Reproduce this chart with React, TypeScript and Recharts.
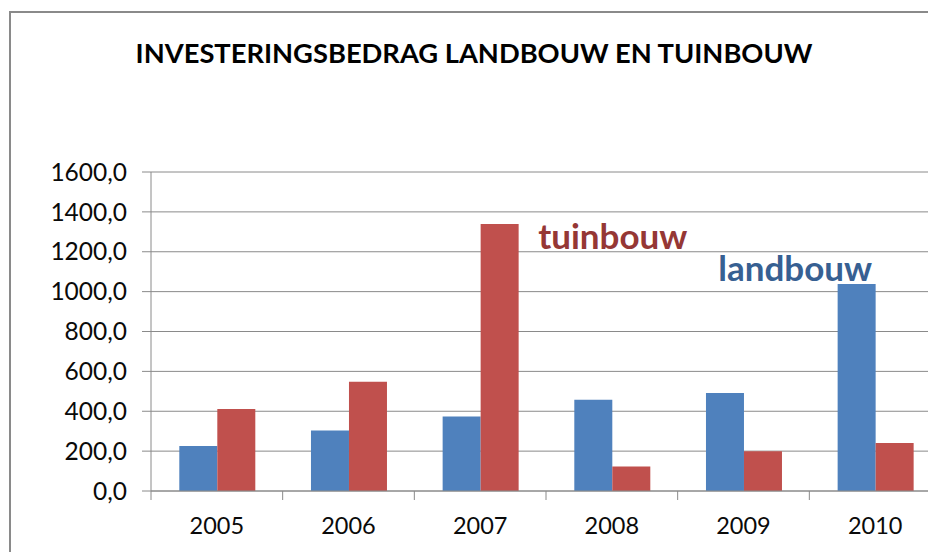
import React from 'react'
import { BarChart, Bar, XAxis, YAxis, CartesianGrid, ReferenceDot } from 'recharts'

const years = ['2005', '2006', '2007', '2008', '2009', '2010']
const landbouw = [226, 304, 374, 458, 491, 1038]
const tuinbouw = [411, 548, 1339, 123, 199, 241]
const yTicks = [0, 200, 400, 600, 800, 1000, 1200, 1400, 1600]

const data = years.map((year, i) => ({ year, landbouw: landbouw[i], tuinbouw: tuinbouw[i] }))

const FONT = 'Lato, "Open Sans", sans-serif'
const AXIS = '#8a8a8a'

const fmt = (v: number) => v.toFixed(1).replace('.', ',')

// category label in the middle, tick mark on the left boundary of each band
const YearTick = (props: any) => {
  const { x, y, payload, width, visibleTicksCount } = props
  const band = width / (visibleTicksCount || years.length)
  return (
    <g>
      <line x1={x - band / 2} y1={y} x2={x - band / 2} y2={y + 9} stroke={AXIS} />
      <text x={x} y={y + 43} textAnchor="middle" fontFamily={FONT} fontSize={23.5} fill="#0a0a0a">
        {payload.value}
      </text>
    </g>
  )
}

const tag = (text: string, color: string, dx: number, anchor: 'start' | 'end') => (p: any) => {
  const vb = p.viewBox || {}
  return (
    <text x={vb.x + dx} y={vb.y} textAnchor={anchor} fontFamily={FONT} fontWeight={700} fontSize={35} fill={color}>
      {text}
    </text>
  )
}

const App = () => {
  return (
    <div style={{ position: 'fixed', left: 0, top: 0, width: 928, height: 552, overflow: 'hidden', background: '#fff' }}>
      <div
        style={{
          position: 'absolute',
          left: 9,
          top: 11,
          width: 2000,
          height: 2000,
          borderLeft: `2px solid ${AXIS}`,
          borderTop: `2px solid ${AXIS}`,
        }}
      />
      <div
        style={{
          position: 'absolute',
          left: 0,
          top: 39,
          width: 948,
          textAlign: 'center',
          fontFamily: FONT,
          fontWeight: 700,
          fontSize: 27.3,
          lineHeight: '28px',
          color: '#000',
        }}
      >
        INVESTERINGSBEDRAG LANDBOUW EN TUINBOUW
      </div>
      <div style={{ position: 'absolute', left: 0, top: 0 }}>
        <BarChart
          width={960}
          height={552}
          data={data}
          margin={{ top: 172, right: 19, left: 0, bottom: 0 }}
          barCategoryGap="21.5%"
          barGap={0}
        >
          <CartesianGrid vertical={false} stroke={AXIS} />
          <XAxis
            dataKey="year"
            height={61}
            stroke={AXIS}
            tickLine={false}
            tickSize={0}
            tickMargin={0}
            tick={<YearTick />}
            interval={0}
          />
          <YAxis
            width={151}
            domain={[0, 1600]}
            ticks={yTicks}
            tickFormatter={fmt}
            stroke={AXIS}
            tickSize={9}
            tickMargin={15}
            tick={{ fill: '#0a0a0a', fontFamily: FONT, fontSize: 24.5 }}
          />
          <Bar dataKey="landbouw" fill="#4F81BD" isAnimationActive={false} />
          <Bar dataKey="tuinbouw" fill="#C0504D" isAnimationActive={false} />
          <ReferenceDot
            x="2007"
            y={1214}
            r={0}
            fill="none"
            stroke="none"
            label={{ content: tag('tuinbouw', '#953735', 58, 'start') }}
          />
          <ReferenceDot
            x="2010"
            y={1051}
            r={0}
            fill="none"
            stroke="none"
            label={{ content: tag('landbouw', '#376092', -3, 'end') }}
          />
        </BarChart>
      </div>
    </div>
  )
}

export default App
